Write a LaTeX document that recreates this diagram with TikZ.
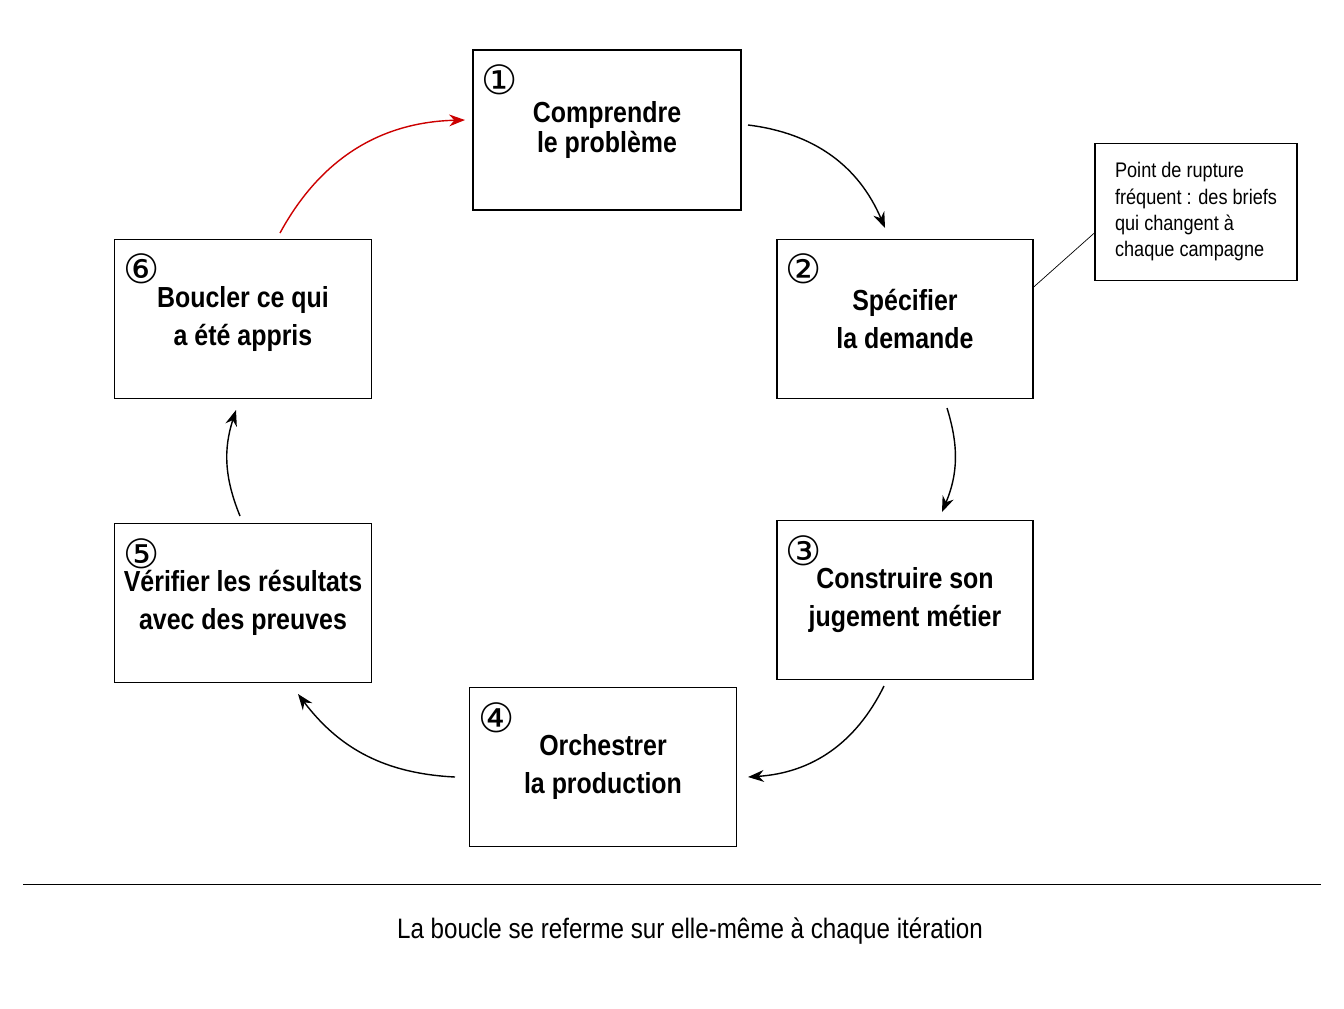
\documentclass[tikz,border=0pt]{standalone}
\usepackage{fontspec}
\setmainfont{Liberation Sans}
\newfontfamily\condfont[FakeStretch=0.86]{Liberation Sans}
\newfontfamily\symfont{DejaVu Sans}
\usetikzlibrary{arrows.meta}
\tikzset{
    stage/.style={draw,thick,minimum width=5.2cm,minimum height=3.18cm,
        align=center,font=\condfont\bfseries\fontsize{16.5}{21.5}\selectfont},
    num/.style={font=\symfont\fontsize{23}{23}\selectfont,anchor=center},
    flow/.style={-{Stealth[length=9pt]},thick,black},
}
\begin{document}
\begin{tikzpicture}[x=0.02cm,y=-0.02cm]
    \useasboundingbox (0,0) rectangle (1344,1008);
    \node[stage,minimum width=5.36cm,minimum height=3.2cm] (b1) at (607,130) {\raisebox{-4pt}{Comprendre}\\le problème};
    \node[stage,minimum width=5.12cm] (b2) at (905,319) {Spécifier\\la demande};
    \node[stage,minimum width=5.12cm] (b3) at (905,600) {Construire son\\jugement métier};
    \node[stage,minimum width=5.34cm] (b4) at (603,767) {Orchestrer\\la production};
    \node[stage,minimum width=5.14cm] (b5) at (243,603) {Vérifier les résultats\\avec des preuves};
    \node[stage,minimum width=5.14cm] (b6) at (243,319) {Boucler ce qui\\a été appris};
    \node[num] at (500,80) {①};
    \node[num] at (804,269) {②};
    \node[num] at (804,551) {③};
    \node[num] at (497,718) {④};
    \node[num] at (142,554) {⑤};
    \node[num] at (142,269) {⑥};
    % note
    \node[draw,thick,minimum width=4.04cm,minimum height=2.74cm,align=left,
        font=\condfont\fontsize{12}{15}\selectfont] (note) at (1196,212)
        {Point de rupture\\fréquent : des briefs\\qui changent à\\chaque campagne};
    \draw[thin] (b2.east) ++(0,-32) -- ([yshift=-0.42cm]note.west);
    % cycle
    \coordinate (s1) at (748,125); \coordinate (e1) at (885,228);
    \coordinate (s2) at (947,408); \coordinate (e2) at (942,512);
    \coordinate (s3) at (884,686); \coordinate (e3) at (748,777);
    \coordinate (s4) at (455,777); \coordinate (e4) at (298,694);
    \coordinate (s5) at (240,516); \coordinate (e5) at (236,410);
    \coordinate (s6) at (280,233); \coordinate (e6) at (465,120);
    \draw[flow] (s1) to[bend left=30] (e1);
    \draw[flow] (s2) to[bend left=20] (e2);
    \draw[flow] (s3) to[bend left=30] (e3);
    \draw[flow] (s4) to[bend left=25] (e4);
    \draw[flow] (s5) to[bend left=20] (e5);
    \draw[flow,red!80!black] (s6) to[bend left=30] (e6);
    % caption
    \draw[thin] (23,884) -- (1321,884);
    \node[font=\condfont\fontsize{16}{18}\selectfont] (cap) at (690,931)
        {La boucle se referme sur elle-même à chaque itération};
\end{tikzpicture}
\end{document}
